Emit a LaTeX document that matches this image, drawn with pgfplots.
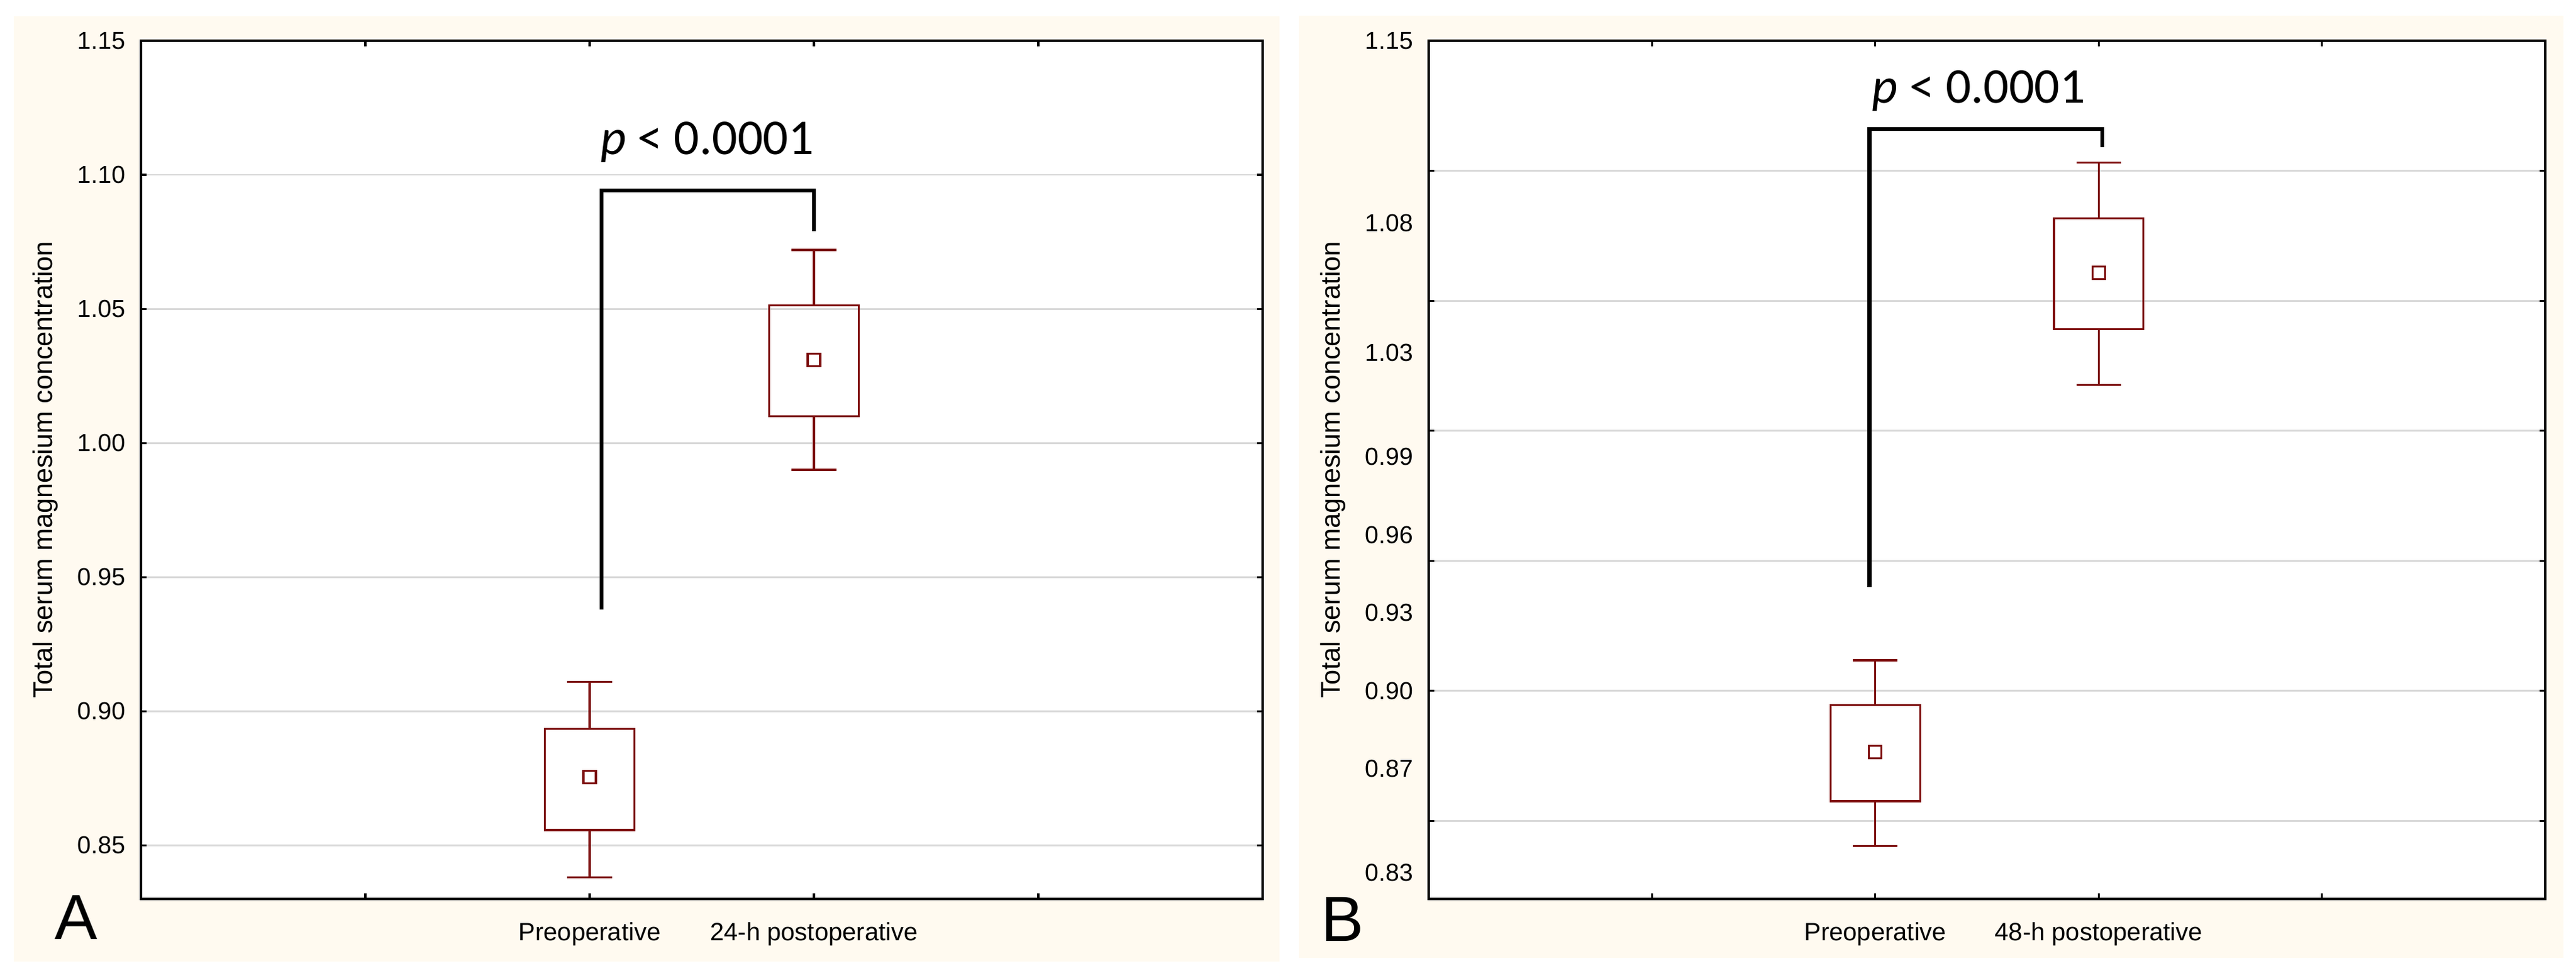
\documentclass[border=0pt]{standalone}
\usepackage{fontspec}
\setmainfont{Liberation Sans}
\newfontfamily\calib{Carlito}
\usepackage{pgfplots}
\pgfplotsset{compat=1.18}
\usepgfplotslibrary{statistics}

\definecolor{maroon}{RGB}{125,12,12}
\definecolor{gridgray}{RGB}{217,217,217}
\definecolor{panel}{RGB}{255,250,240}

\pgfplotsset{
  magbox/.style={
    scale only axis, height=342.5pt, anchor=south west,
    xmin=0, xmax=5, xtick={1,2,3,4},
    tick align=inside, major tick length=2.2pt,
    every tick/.append style={black, line width=0.8pt},
    axis line style={line width=1pt},
    axis background/.style={fill=white},
    ymajorgrids, major grid style={gridgray, line width=0.7pt},
    x tick label style={font=\fontsize{10}{12}\selectfont, inner sep=0pt, yshift=-9.25pt},
    y tick label style={font=\fontsize{9.8}{11}\selectfont, inner sep=0pt, xshift=-6pt,
      /pgf/number format/fixed, /pgf/number format/fixed zerofill,
      /pgf/number format/precision=2, /pgf/number format/assume math mode=true},
    scaled y ticks=false,
    ylabel={Total serum magnesium concentration},
    ylabel style={anchor=base, inner sep=0pt, font=\fontsize{10.8}{13}\selectfont},
    clip=false,
  },
  mbox/.style={draw=maroon, line width=0.8pt, solid,
    boxplot/draw direction=y,
    boxplot/box extend=0.4, boxplot/whisker extend=0.2,
    boxplot/every median/.style={/tikz/draw=none},
    boxplot/every average/.style={/tikz/mark=square, /tikz/mark size=2.5pt,
      /tikz/draw=maroon, /tikz/fill=none,
      /tikz/mark options={draw=maroon, fill=none, line width=0.7pt}}},
}
\tikzset{
  bracket/.style={black, line width=1.6pt},
  ptext/.style={anchor=base west, inner sep=0pt, font=\calib\fontsize{20}{24}\selectfont},
}

\begin{document}
\begin{tikzpicture}
\fill[white] (0,0) rectangle (1027.75pt,-387.5pt);
\fill[panel] (5.5pt,-6.5pt) rectangle (510.5pt,-383.75pt);
\fill[panel] (518.25pt,-6.25pt) rectangle (1022.75pt,-382.25pt);

% A: 24-h
\begin{axis}[magbox, at={(56.25pt,-358.75pt)}, width=447.5pt,
  ymin=0.83, ymax=1.15, ytick={0.85,0.9,0.95,1,1.05,1.1,1.15},
  xticklabels={{},Preoperative,24-h postoperative,{}},
  ylabel style={at={(axis description cs:-0.0793,0.5)}},
]
\addplot[mbox, boxplot prepared={draw position=2, lower whisker=0.838, lower quartile=0.8557,
  median=0.8754, average=0.8754, upper quartile=0.8935, upper whisker=0.911}] coordinates {};
\addplot[mbox, boxplot prepared={draw position=3, lower whisker=0.990, lower quartile=1.010,
  median=1.031, average=1.031, upper quartile=1.0514, upper whisker=1.072}] coordinates {};
\addplot[bracket] coordinates {(2.053,0.938) (2.053,1.0942) (3.0,1.0942) (3.0,1.079)};
\node[ptext] at (axis cs:2.047,1.1077) {\textit{p} < 0.0001};
\end{axis}

% B: 48-h
\begin{axis}[magbox, at={(570pt,-358.75pt)}, width=445.5pt,
  ymin=0.82, ymax=1.15, ytick={0.85,0.9,0.95,1,1.05,1.1},
  yticklabels={{},{},{},{},{},{}},
  extra y ticks={0.83,0.87,0.90,0.93,0.96,0.99,1.03,1.08,1.15},
  extra y tick style={major tick length=0pt, grid=none},
  xticklabels={{},Preoperative,48-h postoperative,{}},
  ylabel style={at={(axis description cs:-0.0797,0.5)}},
]
\addplot[mbox, boxplot prepared={draw position=2, lower whisker=0.8404, lower quartile=0.8576,
  median=0.8764, average=0.8764, upper quartile=0.8945, upper whisker=0.9118}] coordinates {};
\addplot[mbox, boxplot prepared={draw position=3, lower whisker=1.0177, lower quartile=1.0391,
  median=1.0608, average=1.0608, upper quartile=1.0818, upper whisker=1.1031}] coordinates {};
\addplot[bracket] coordinates {(1.974,0.940) (1.974,1.116) (3.016,1.116) (3.016,1.109)};
\node[ptext] at (axis cs:1.984,1.126) {\textit{p} < 0.0001};
\end{axis}

\node[anchor=base west, inner sep=0pt, font=\fontsize{25.5}{30}\selectfont] at (21.75pt,-374.75pt) {A};
\node[anchor=base west, inner sep=0pt, font=\fontsize{25.5}{30}\selectfont] at (526.9pt,-375.5pt) {B};

\pgfresetboundingbox
\useasboundingbox (0,0) rectangle (1027.75pt,-387.5pt);
\end{tikzpicture}
\end{document}
